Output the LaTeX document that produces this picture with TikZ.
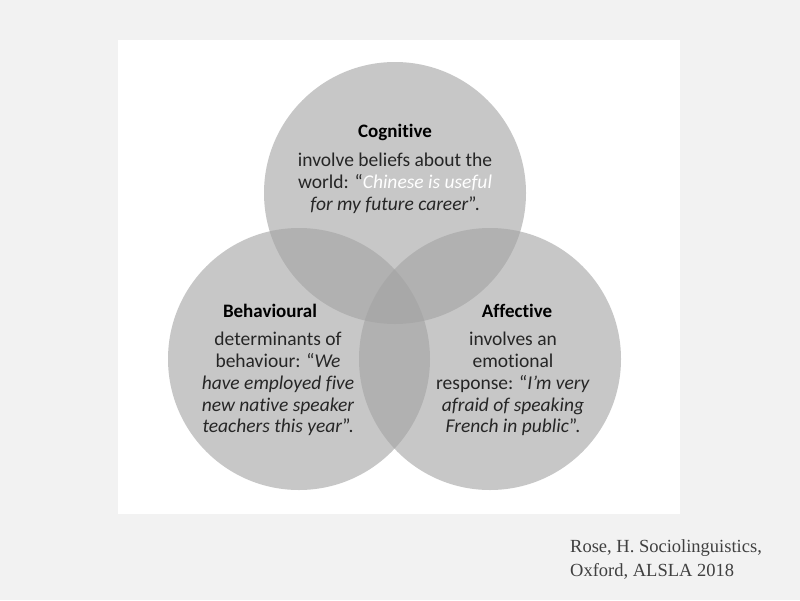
\documentclass[tikz,border=0pt]{standalone}
\usepackage{fontspec}
\setmainfont{Carlito}[RawFeature=-liga]
\newfontfamily\citefont{Liberation Serif}
\definecolor{pagebg}{HTML}{F2F2F2}
\definecolor{circfill}{RGB}{163,163,163}
\definecolor{bodytext}{HTML}{262626}
\definecolor{citetext}{HTML}{404040}
\begin{document}
\begin{tikzpicture}[x=1pt,y=-1pt,
  vcircle/.style={fill=circfill,fill opacity=0.6,draw=none},
  headtext/.style={font=\fontsize{19}{21}\selectfont\bfseries,text=black,inner sep=0pt},
  bodytxt/.style={font=\fontsize{19.5}{21.8}\selectfont,text=bodytext,align=center,inner sep=0pt,anchor=north},
  citetxt/.style={font=\citefont\fontsize{18.5}{24}\selectfont,text=citetext,align=left,inner sep=0pt,anchor=north west}]
\fill[pagebg] (0,0) rectangle (800,600);
\useasboundingbox (0,0) rectangle (800,600);
\fill[white] (118,40) rectangle (680,514);
\fill[vcircle] (395,193) circle (131);
\fill[vcircle] (299,359) circle (131);
\fill[vcircle] (490,359) circle (131);
\node[headtext] (cogh) at (395,132) {Cognitive};
\node[bodytxt] (cogb) at (395,153) {involve beliefs about the\\world: “\textcolor{white}{\itshape Chinese is useful}\\\textit{for my future career}”.};
\node[headtext] (behh) at (270,311) {Behavioural};
\node[bodytxt] (behb) at (278,332) {determinants of\\behaviour: “\textit{We}\\\textit{have employed five}\\\textit{new native speaker}\\\textit{teachers this year}”.};
\node[headtext] (affh) at (517,311) {Affective};
\node[bodytxt] (affb) at (513,332) {involves an\\emotional\\response: “\textit{I’m very}\\\textit{afraid of speaking}\\\textit{French in public}”.};
\node[citetxt] (cite) at (570,539) {Rose, H. Sociolinguistics,\\Oxford, ALSLA 2018};
\end{tikzpicture}
\end{document}
